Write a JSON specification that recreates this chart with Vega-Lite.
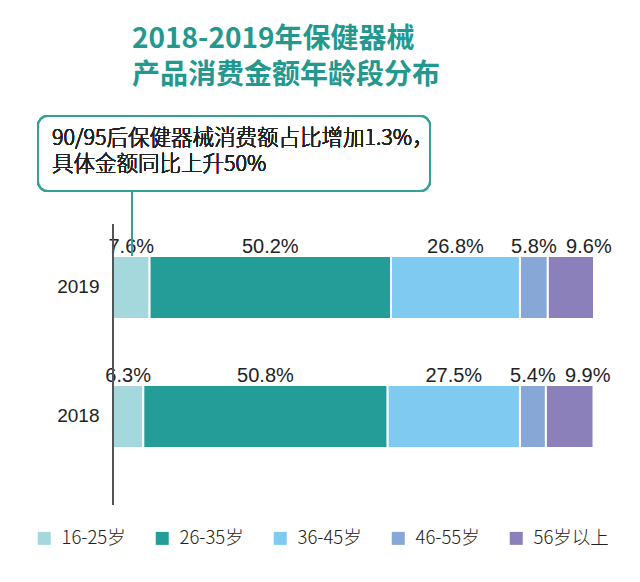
{
  "$schema": "https://vega.github.io/schema/vega-lite/v6.json",
  "width": 481,
  "height": 405,
  "autosize": {"type": "none"},
  "padding": {"left": 113, "top": 100, "right": 46, "bottom": 77},
  "background": "white",
  "config": {"view": {"stroke": null}},
  "title": {
    "text": ["2018-2019年保健器械", "产品消费金额年龄段分布"],
    "anchor": "start",
    "frame": "group",
    "dx": 19,
    "offset": 10,
    "font": "Noto Sans CJK SC",
    "fontSize": 28,
    "fontWeight": "bold",
    "color": "#23988f",
    "lineHeight": 36
  },
  "data": {
    "values": [
      {"year": "2019", "age": "16-25岁", "pct": 0.076},
      {"year": "2019", "age": "26-35岁", "pct": 0.502},
      {"year": "2019", "age": "36-45岁", "pct": 0.268},
      {"year": "2019", "age": "46-55岁", "pct": 0.058},
      {"year": "2019", "age": "56岁以上", "pct": 0.096},
      {"year": "2018", "age": "16-25岁", "pct": 0.063},
      {"year": "2018", "age": "26-35岁", "pct": 0.508},
      {"year": "2018", "age": "36-45岁", "pct": 0.275},
      {"year": "2018", "age": "46-55岁", "pct": 0.054},
      {"year": "2018", "age": "56岁以上", "pct": 0.099}
    ]
  },
  "layer": [
    {
      "layer": [
        {
          "mark": {"type": "bar", "stroke": "white", "strokeWidth": 2},
          "encoding": {
            "y": {
              "field": "year", "type": "nominal",
              "scale": {"domain": ["2019", "2018"], "paddingInner": 0.5116, "paddingOuter": 0.8256, "align": 0.732},
              "axis": {"title": null, "domain": false, "ticks": false, "grid": false, "labelFontSize": 19, "labelFont": "Liberation Sans", "labelColor": "#222222", "labelPadding": 14}
            },
            "x": {
              "field": "pct", "type": "quantitative", "stack": "zero",
              "scale": {"domain": [0, 1], "nice": false, "zero": false},
              "axis": null
            },
            "order": {"field": "age", "type": "ordinal", "sort": "ascending"},
            "color": {
              "field": "age", "type": "nominal",
              "scale": {
                "domain": ["16-25岁", "26-35岁", "36-45岁", "46-55岁", "56岁以上"],
                "range": ["#a4d8dd", "#249c98", "#7fcaf0", "#87a8d6", "#8c80bb"]
              },
              "legend": {
                "orient": "none", "legendX": -78, "legendY": 429, "direction": "horizontal",
                "title": null, "symbolType": "square", "symbolSize": 169, "symbolStrokeWidth": 0,
                "labelFontSize": 18.5, "labelFont": "Noto Sans CJK SC", "labelFontWeight": 300, "labelColor": "#222222",
                "labelOffset": 8, "columnPadding": 27, "padding": 0
              }
            }
          }
        },
        {
          "mark": {"type": "text", "baseline": "alphabetic", "dy": -34, "fontSize": 20, "font": "Liberation Sans", "color": "#222222"},
          "encoding": {
            "y": {"field": "year", "type": "nominal"},
            "x": {
              "field": "pct", "type": "quantitative", "stack": "zero", "bandPosition": 0.5,
              "scale": {"domain": [0, 1], "nice": false, "zero": false}
            },
            "order": {"field": "age", "type": "ordinal", "sort": "ascending"},
            "detail": {"field": "age"},
            "text": {
              "condition": {"test": "datum.age !== '56岁以上'", "field": "pct", "type": "quantitative", "format": ".1%"},
              "value": ""
            }
          }
        },
        {
          "mark": {"type": "text", "baseline": "alphabetic", "dy": -34, "dx": 18, "fontSize": 20, "font": "Liberation Sans", "color": "#222222"},
          "encoding": {
            "y": {"field": "year", "type": "nominal"},
            "x": {
              "field": "pct", "type": "quantitative", "stack": "zero", "bandPosition": 0.5,
              "scale": {"domain": [0, 1], "nice": false, "zero": false}
            },
            "order": {"field": "age", "type": "ordinal", "sort": "ascending"},
            "detail": {"field": "age"},
            "text": {
              "condition": {"test": "datum.age === '56岁以上'", "field": "pct", "type": "quantitative", "format": ".1%"},
              "value": ""
            }
          }
        }
      ]
    },
    {
      "layer": [
        {
          "mark": {"type": "rect", "cornerRadius": 10, "fill": "white", "stroke": "#37a197", "strokeWidth": 2},
          "encoding": {
            "x": {"datum": -0.1559, "type": "quantitative", "scale": {"domain": [0, 1], "nice": false, "zero": false}},
            "x2": {"datum": 0.659},
            "y": {"datum": 389, "type": "quantitative", "scale": {"domain": [0, 405], "nice": false, "zero": false}, "axis": null},
            "y2": {"datum": 314}
          }
        },
        {
          "mark": {"type": "text", "align": "left", "baseline": "alphabetic", "fontSize": 21.5, "font": "Noto Sans CJK SC", "fontWeight": 300, "color": "#222222", "text": "90/95后保健器械消费额占比增加1.3%，"},
          "encoding": {
            "x": {"datum": -0.1268, "type": "quantitative"},
            "y": {"datum": 360, "type": "quantitative"}
          }
        },
        {
          "mark": {"type": "text", "align": "left", "baseline": "alphabetic", "fontSize": 21.5, "font": "Noto Sans CJK SC", "fontWeight": 300, "color": "#222222", "text": "具体金额同比上升50%"},
          "encoding": {
            "x": {"datum": -0.1268, "type": "quantitative"},
            "y": {"datum": 334, "type": "quantitative"}
          }
        },
        {
          "mark": {"type": "rule", "color": "#555555", "strokeWidth": 1.5},
          "encoding": {
            "x": {"datum": 0, "type": "quantitative"},
            "y": {"datum": 0, "type": "quantitative"},
            "y2": {"datum": 281}
          }
        },
        {
          "mark": {"type": "rule", "color": "#37a197", "strokeWidth": 2},
          "encoding": {
            "x": {"datum": 0.0395, "type": "quantitative"},
            "y": {"datum": 249, "type": "quantitative"},
            "y2": {"datum": 314}
          }
        }
      ]
    }
  ],
  "resolve": {"scale": {"y": "independent"}, "axis": {"y": "independent"}}
}
